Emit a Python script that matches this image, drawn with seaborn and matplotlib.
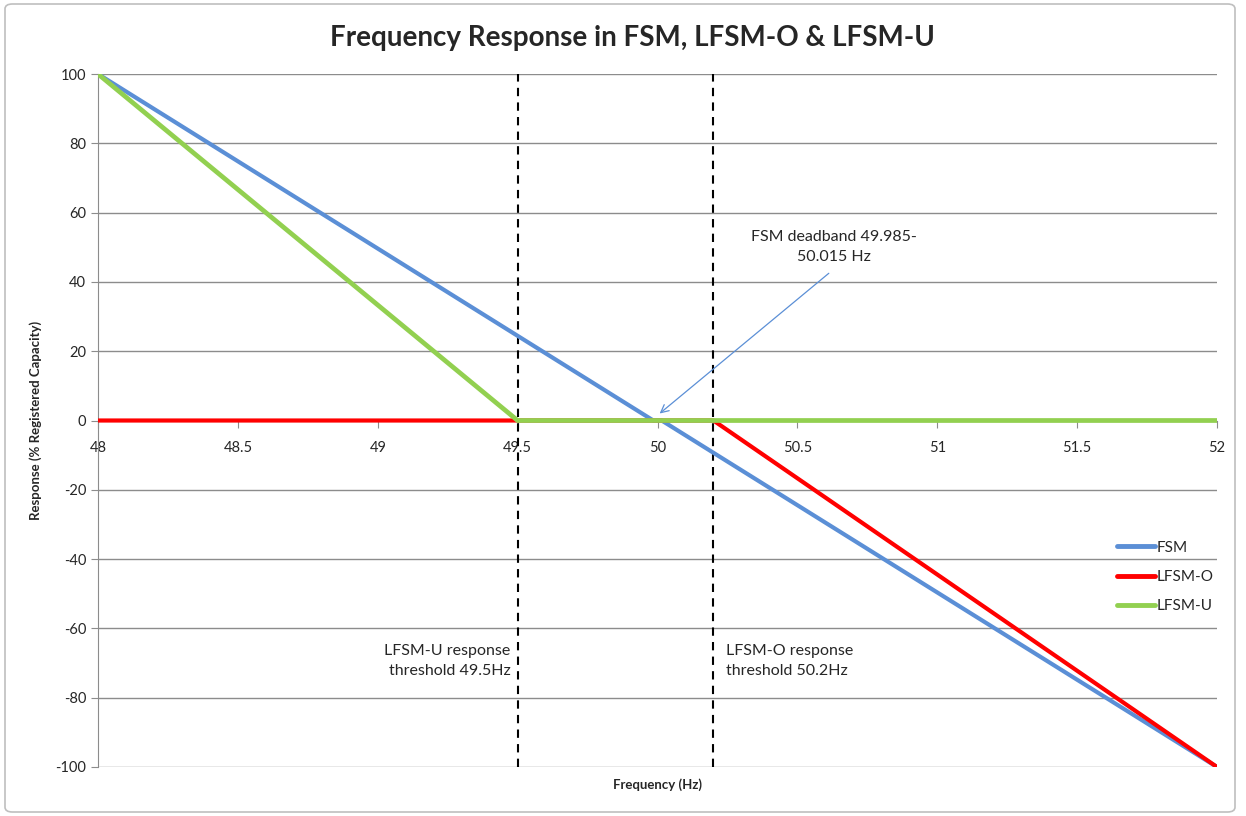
import numpy as np
import pandas as pd
import seaborn as sns
import matplotlib.pyplot as plt
from matplotlib.colors import to_hex
from matplotlib.patches import FancyBboxPatch

# series (frequency in Hz, response in % registered capacity)
fsm_x = [48.0, 49.985, 50.015, 52.0]
fsm_y = [100, 0, 0, -100]
lfsm_o_x = [48.0, 50.2, 52.0]
lfsm_o_y = [0, 0, -100]
lfsm_u_x = [48.0, 49.5, 52.0]
lfsm_u_y = [100, 0, 0]
thresholds = [49.5, 50.2]
x_ticks = [48, 48.5, 49, 49.5, 50, 50.5, 51, 51.5, 52]
x_tick_labels = ["48", "48.5", "49", "49.5", "50", "50.5", "51", "51.5", "52"]
y_ticks = list(range(-100, 101, 20))

series = ["FSM", "LFSM-O", "LFSM-U"]
colors = {"FSM": "#5b8fd6", "LFSM-O": "#ff0000", "LFSM-U": "#92d050"}

df = pd.concat([
    pd.DataFrame({"freq": fsm_x, "resp": fsm_y, "series": "FSM"}),
    pd.DataFrame({"freq": lfsm_o_x, "resp": lfsm_o_y, "series": "LFSM-O"}),
    pd.DataFrame({"freq": lfsm_u_x, "resp": lfsm_u_y, "series": "LFSM-U"}),
], ignore_index=True)

sns.set_style("white")
plt.rcParams["font.family"] = ["Lato", "DejaVu Sans"]
plt.rcParams["axes.unicode_minus"] = False

fig = plt.figure(figsize=(12.46, 8.16), dpi=100)
ax = fig.add_axes([98 / 1246, 1 - 767 / 816, (1217 - 98) / 1246, (767 - 74) / 816])

# chart border
fig.patches.append(FancyBboxPatch((5 / 1246, 4 / 816), 1230 / 1246, 808 / 816,
                                  boxstyle="round,pad=0,rounding_size=0.006",
                                  transform=fig.transFigure, fill=False,
                                  edgecolor="#BFBFBF", linewidth=1.2))

for yv in y_ticks:
    if yv != 0:
        ax.axhline(yv, color="#8C8C8C", linewidth=1, zorder=0)

for t in thresholds:
    ax.axvline(t, color="black", linestyle=(0, (4, 3)), linewidth=1.5, zorder=1)

sns.lineplot(data=df, x="freq", y="resp", hue="series", hue_order=series,
             palette=colors, linewidth=3, estimator=None, sort=False, ax=ax)

# stacking: blue, then red, then green on top (green covers red along zero)
zorders = {"#5b8fd6": 3, "#ff0000": 4, "#92d050": 5}
for line in ax.lines:
    c = to_hex(line.get_color())
    if c in zorders:
        line.set_zorder(zorders[c])
        line.set_alpha(1)
        if c == "#92d050":
            line.set_linewidth(3.4)

ax.set_xlim(48, 52)
ax.set_ylim(-100, 100)
ax.set_xticks(x_ticks)
ax.set_xticklabels(x_tick_labels)
ax.set_yticks(y_ticks)

ax.spines["top"].set_visible(False)
ax.spines["right"].set_visible(False)
ax.spines["bottom"].set_position(("data", 0))
ax.spines["bottom"].set_color("#8C8C8C")
ax.spines["left"].set_color("#8C8C8C")
ax.spines["bottom"].set_zorder(0)
ax.tick_params(axis="both", direction="out", length=5, color="#8C8C8C",
               labelsize=10.5, labelcolor="#262626", bottom=True, left=True)
ax.tick_params(axis="x", pad=10)

ax.set_xlabel("Frequency (Hz)", fontsize=9.5, fontweight="bold")
ax.set_ylabel("Response (% Registered Capacity)", fontsize=9.5, fontweight="bold")
ax.xaxis.set_label_coords(0.5, -0.016)
ax.yaxis.set_label_coords(-0.05, 0.5)

fig.text(632 / 1246, 1 - 38 / 816, "Frequency Response in FSM, LFSM-O & LFSM-U",
         ha="center", va="center", fontsize=20, fontweight="bold")

ax.text(49.475, -69.5, "LFSM-U response\nthreshold 49.5Hz", ha="right", va="center",
        fontsize=11.5, color="#262626", linespacing=1.55)
ax.text(50.245, -69.5, "LFSM-O response\nthreshold 50.2Hz", ha="left", va="center",
        fontsize=11.5, color="#262626", linespacing=1.55)
ax.text(50.63, 50.2, "FSM deadband 49.985-\n50.015 Hz", ha="center", va="center",
        fontsize=11.5, color="#262626", linespacing=1.55)
ax.annotate("", xy=(50.0, 1.5), xytext=(50.62, 43),
            arrowprops=dict(arrowstyle="->", color="#5B8FD6", lw=0.9,
                            mutation_scale=14))

leg = ax.legend(loc="center left", bbox_to_anchor=(0.898, 0.274), frameon=False,
                fontsize=11, handlelength=2.5, handletextpad=0.15, labelspacing=1.0)
for line in leg.get_lines():
    line.set_linewidth(3.5)
    line.set_solid_capstyle("round")

fig.savefig("out.png", dpi=100, facecolor="white")
